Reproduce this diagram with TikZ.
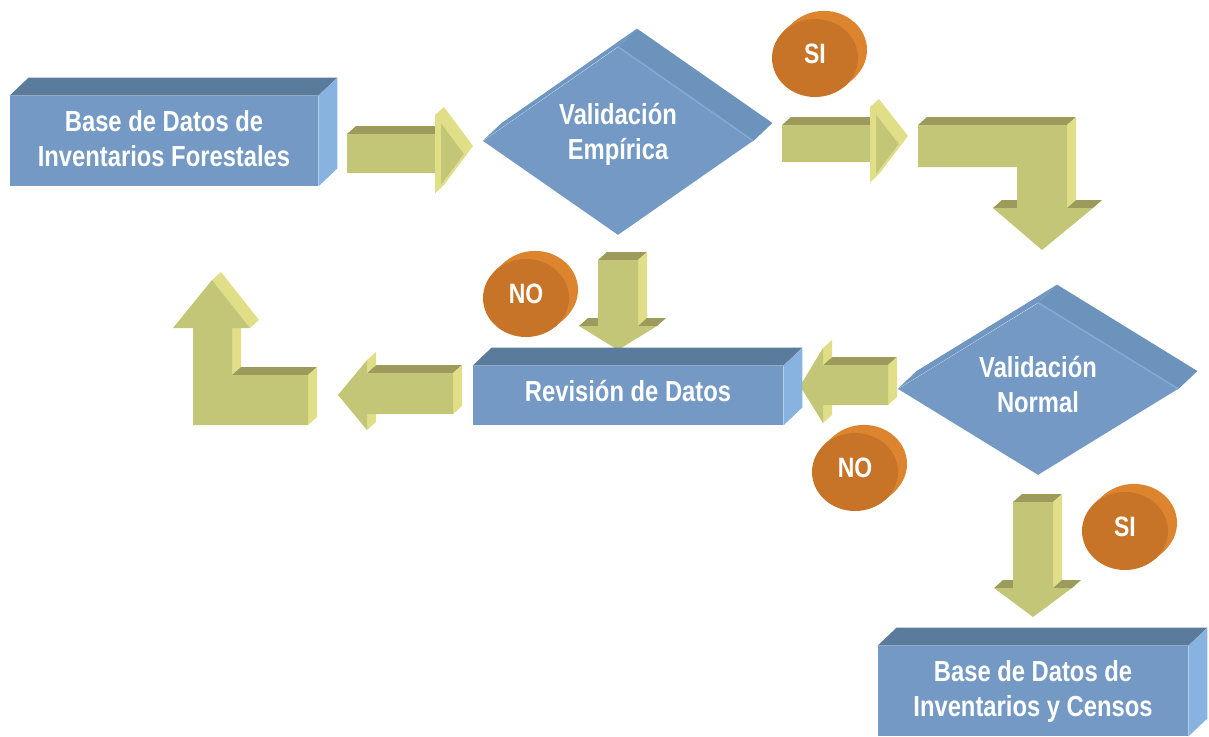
\documentclass[tikz,border=0pt]{standalone}
\usepackage{fontspec}
\usetikzlibrary{calc,shapes.geometric}
\newfontfamily\chartfont{Liberation Sans Bold}[FakeStretch=0.82]

\definecolor{boxfront}{HTML}{7399C4}
\definecolor{boxtop}{HTML}{5B7B9C}
\definecolor{boxright}{HTML}{88B3E0}
\definecolor{diamleft}{HTML}{7097C2}
\definecolor{diamright}{HTML}{6B93BC}
\definecolor{diamedge}{HTML}{82AAD6}
\definecolor{arrfront}{HTML}{C4C677}
\definecolor{arrtop}{HTML}{9C9B5C}
\definecolor{arrlight}{HTML}{E0DF88}
\definecolor{coinfront}{HTML}{C87428}
\definecolor{coinside}{HTML}{DC852E}

\tikzset{
  box/.style={rectangle, fill=boxfront, inner sep=0pt, text=white, align=center,
    font=\chartfont\fontsize{14.5}{17.5}\selectfont},
  valid/.style={diamond, fill=boxfront, inner sep=0pt},
  validtext/.style={text=white, align=center, font=\chartfont\fontsize{14.5}{17.5}\selectfont},
  coin/.style={ellipse, fill=coinfront, inner sep=0pt, minimum width=43pt, minimum height=39pt,
    text depth=4pt, text=white, font=\chartfont\fontsize{14}{16}\selectfont}
}

% side faces of the 3d shapes
\newcommand{\boxsides}[1]{%
  \fill[boxtop] (#1.north west) -- ++(19,-18) -- ($(#1.north east)+(19,-18)$) -- (#1.north east) -- cycle;
  \fill[boxright] (#1.north east) -- ++(19,-18) -- ($(#1.south east)+(19,-18)$) -- (#1.south east) -- cycle;}
\newcommand{\diamsides}[1]{%
  \fill[diamleft] (#1.west) -- ++(19,-18) -- ($(#1.north)+(19,-18)$) -- (#1.north) -- cycle;
  \fill[diamright] (#1.north) -- ++(19,-18) -- ($(#1.east)+(19,-18)$) -- (#1.east) -- cycle;
  \draw[diamedge, line width=0.8pt] (#1.north) -- (#1.east);}
\newcommand{\arrface}[3]{%
  \fill[#1] (#2) -- (#3) -- ($(#3)+(9,-8)$) -- ($(#2)+(9,-8)$) -- cycle;}
\newcommand{\drawcoin}[3]{%
  \foreach \k in {9,8,...,1}
    \fill[coinside] ($(#1)+(\k,-0.9*\k)$) ellipse[x radius=21.5pt, y radius=19.5pt];
  \node[coin] (#2) at (#1) {#3};}

\begin{document}
\begin{tikzpicture}[x=0.5pt, y=-0.5pt]
    \useasboundingbox (0,0) rectangle (1209,736);

    % arrows
    \arrface{arrtop}{347,134}{435,134}
    \arrface{arrlight}{435,115}{464,154}
    \arrface{arrlight}{464,154}{435,193}
    \fill[arrfront] (347,134) -- (435,134) -- (435,115) -- (464,154) -- (435,193) -- (435,173) -- (347,173) -- cycle;
    \fill[arrlight] (435,115) -- (441,110) -- (441,188) -- (435,193) -- cycle;

    \arrface{arrtop}{782,125}{870,125}
    \arrface{arrlight}{870,107}{899,144}
    \arrface{arrlight}{899,144}{870,182}
    \fill[arrfront] (782,125) -- (870,125) -- (870,107) -- (899,144) -- (870,182) -- (870,162) -- (782,162) -- cycle;
    \fill[arrlight] (870,107) -- (876,102) -- (876,177) -- (870,182) -- cycle;

    \arrface{arrtop}{918,125}{1067,125}
    \arrface{arrlight}{1067,125}{1067,208}
    \arrface{arrtop}{993,208}{1017,208}
    \arrface{arrtop}{1067,208}{1093,208}
    \fill[arrfront] (918,125) -- (1067,125) -- (1067,208) -- (1093,208) -- (1042,250) -- (993,208) -- (1017,208) -- (1017,167) -- (918,167) -- cycle;

    \arrface{arrtop}{598,260}{638,260}
    \arrface{arrlight}{638,260}{638,326}
    \arrface{arrtop}{579,326}{598,326}
    \arrface{arrtop}{638,326}{657,326}
    \fill[arrfront] (598,260) -- (638,260) -- (638,326) -- (657,326) -- (618,350) -- (579,326) -- (598,326) -- cycle;

    \arrface{arrtop}{1013,502}{1053,502}
    \arrface{arrlight}{1053,502}{1053,588}
    \arrface{arrtop}{994,588}{1013,588}
    \arrface{arrtop}{1053,588}{1072,588}
    \fill[arrfront] (1013,502) -- (1053,502) -- (1053,588) -- (1072,588) -- (1033,617) -- (994,588) -- (1013,588) -- cycle;

    \arrface{arrtop}{823,365}{888,365}
    \arrface{arrlight}{888,365}{888,405}
    \arrface{arrlight}{823,348}{823,365}
    \arrface{arrlight}{823,405}{823,423}
    \fill[arrfront] (888,365) -- (823,365) -- (823,348) -- (800,386) -- (823,423) -- (823,405) -- (888,405) -- cycle;

    \arrface{arrtop}{367,373}{453,373}
    \arrface{arrlight}{453,373}{453,414}
    \arrface{arrlight}{367,360}{367,373}
    \arrface{arrlight}{367,414}{367,430}
    \fill[arrfront] (453,373) -- (367,373) -- (367,360) -- (338,395) -- (367,430) -- (367,414) -- (453,414) -- cycle;

    \arrface{arrlight}{212,280}{250,328}
    \arrface{arrlight}{232,328}{232,375}
    \arrface{arrtop}{232,375}{308,375}
    \arrface{arrlight}{308,375}{308,425}
    \fill[arrfront] (193,425) -- (308,425) -- (308,375) -- (232,375) -- (232,328) -- (250,328) -- (212,280) -- (173,328) -- (193,328) -- cycle;

    % boxes
    \node[box, minimum width=154pt, minimum height=45pt, text depth=2.5pt] (bdif) at (164,141) {Base de Datos de\\Inventarios Forestales};
    \boxsides{bdif}
    \node[box, minimum width=155pt, minimum height=29.5pt, text depth=5pt] (rev) at (628,395.5) {Revisión de Datos};
    \boxsides{rev}
    \node[box, minimum width=155pt, minimum height=45pt] (bdic) at (1033,691) {Base de Datos de\\Inventarios y Censos};
    \boxsides{bdic}

    % decisions
    \node[valid, minimum width=135pt, minimum height=94pt] (ve) at (618,141) {};
    \diamsides{ve}
    \node[validtext] (vetext) at (618,134) {Validación\\Empírica};
    \node[valid, minimum width=140pt, minimum height=86pt] (vn) at (1038,389) {};
    \diamsides{vn}
    \node[validtext] (vntext) at (1038,384) {Validación\\Normal};

    % answers
    \drawcoin{815,58}{si1}{SI}
    \drawcoin{526,298}{no1}{NO}
    \drawcoin{855,472}{no2}{NO}
    \drawcoin{1125,531}{si2}{SI}
\end{tikzpicture}
\end{document}
